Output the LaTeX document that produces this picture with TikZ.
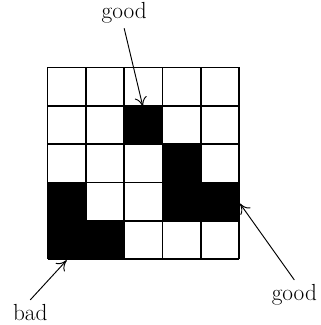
\documentclass[tikz,border=0pt]{standalone}
\usetikzlibrary{arrows.meta}

\begin{document}
\begin{tikzpicture}

% Define styles
\tikzstyle{cellline} = [line width=1.2pt]
\tikzstyle{tag} = [font=\LARGE, anchor=base]
\tikzstyle{pointer} = [line width=0.7pt, -{To[length=2.6mm, width=3.2mm]}]

\useasboundingbox (-1.24,-1.72) rectangle (7.115,6.76);

% Filled cells
\foreach \x/\y in {2/3, 3/2, 0/1, 3/1, 4/1, 0/0, 1/0}
  \fill (\x,\y) rectangle ++(1,1);

% Grid
\draw [cellline] (0,0) grid (5,5);

% Labels
\node (goodtop) [tag] at (2.0,6.27) {good};
\node (goodright) [tag] at (6.44,-1.09) {good};
\node (bad) [tag] at (-0.45,-1.61) {bad};

% Targets
\coordinate (toptip) at (2.49,3.97);
\coordinate (righttip) at (5.02,1.45);
\coordinate (badtip) at (0.5,-0.03);

% Arrows
\draw [pointer] (goodtop.south) -- (toptip);
\draw [pointer] (goodright.north) -- (righttip);
\draw [pointer] (bad.north) -- (badtip);

\end{tikzpicture}
\end{document}
